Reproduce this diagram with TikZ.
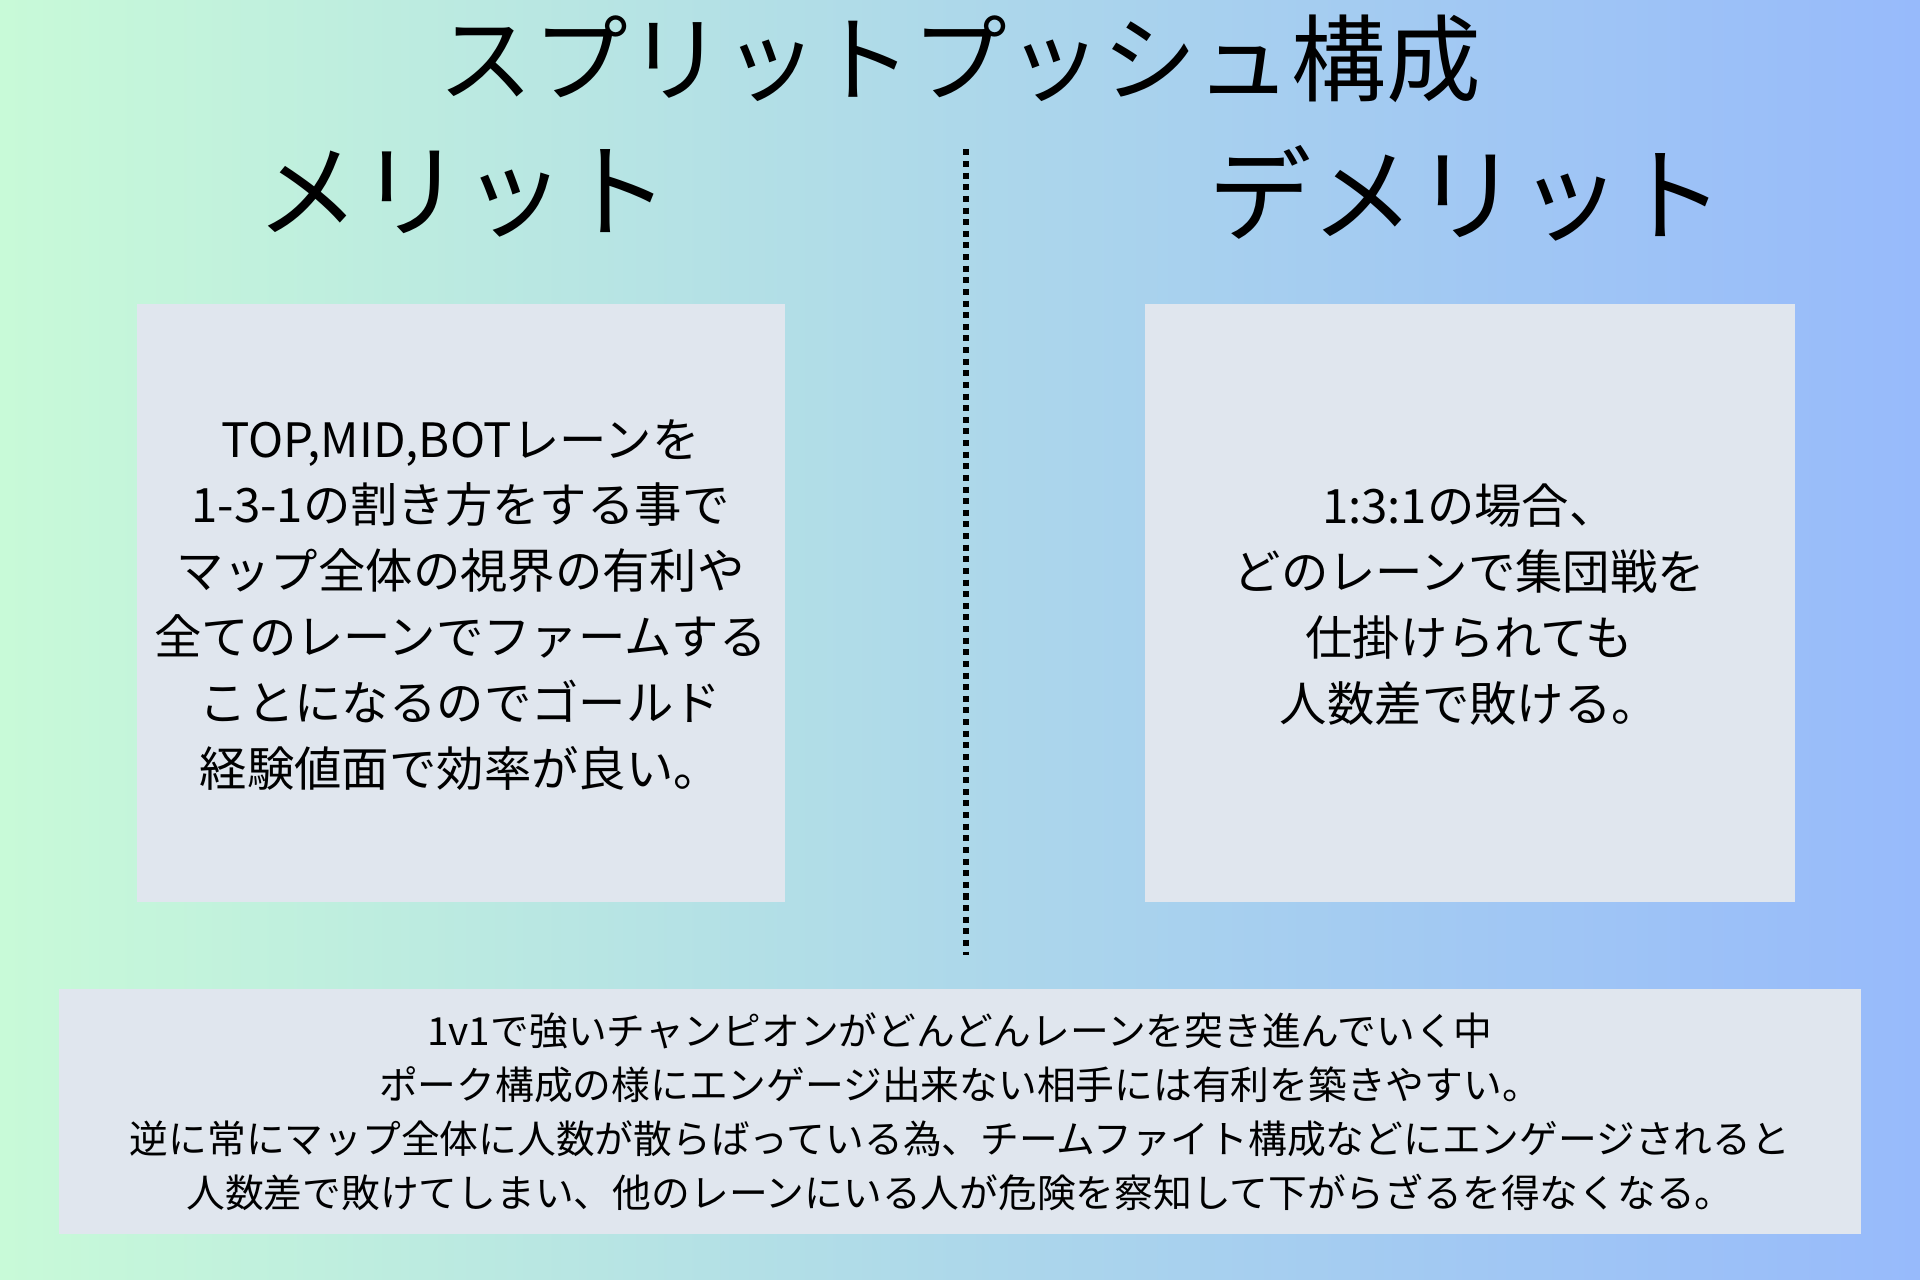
\documentclass[tikz,border=0pt]{standalone}
\usepackage{fontspec}
\setmainfont{Noto Sans CJK JP}
\newfontfamily\jpfont{Noto Sans CJK JP}
\definecolor{bgl}{HTML}{C8FAD8}
\definecolor{bgm}{HTML}{ADD8EA}
\definecolor{bgr}{HTML}{97BAFB}
\definecolor{boxc}{HTML}{E0E6EE}
\tikzset{
  panel/.style={fill=boxc,draw=none},
  body/.style={font=\jpfont\fontsize{11pt}{15.3pt}\selectfont,align=center,text=black},
  small/.style={font=\jpfont\fontsize{9pt}{12.5pt}\selectfont,align=center,text=black},
  head/.style={font=\jpfont\fontsize{24pt}{28pt}\selectfont,text=black}
}
\begin{document}
\begin{tikzpicture}[x=0.01cm,y=-0.01cm]
\useasboundingbox (0,0) rectangle (1568,1045);
\shade[left color=bgl,right color=bgm] (0,0) rectangle (784,1045);
\shade[left color=bgm,right color=bgr] (784,0) rectangle (1568,1045);
\node[head,font=\jpfont\fontsize{22pt}{26pt}\selectfont] (title) at (784,48) {スプリットプッシュ構成};
\node[head] (merit) at (378,158) {メリット};
\node[head] (demerit) at (1198,158) {デメリット};
\coordinate (dtop) at (789,122);
\coordinate (dbot) at (789,780);
\draw[line width=1.4pt,dash pattern=on 1.4pt off 1.3pt] (dtop) -- (dbot);
\path[panel] (112,248) rectangle (641,737);
\path[panel] (935,248) rectangle (1466,737);
\path[panel] (48,808) rectangle (1520,1008);
\node[body] (lt) at (376,494) {TOP,MID,BOTレーンを\\1-3-1の割き方をする事で\\マップ全体の視界の有利や\\全てのレーンでファームする\\ことになるのでゴールド\\経験値面で効率が良い。};
\node[body] (rt) at (1200,494) {1:3:1の場合、\\どのレーンで集団戦を\\仕掛けられても\\人数差で敗ける。};
\node[small] (bt) at (784,908) {1v1で強いチャンピオンがどんどんレーンを突き進んでいく中\\ポーク構成の様にエンゲージ出来ない相手には有利を築きやすい。\\逆に常にマップ全体に人数が散らばっている為、チームファイト構成などにエンゲージされると\\人数差で敗けてしまい、他のレーンにいる人が危険を察知して下がらざるを得なくなる。};
\end{tikzpicture}
\end{document}
